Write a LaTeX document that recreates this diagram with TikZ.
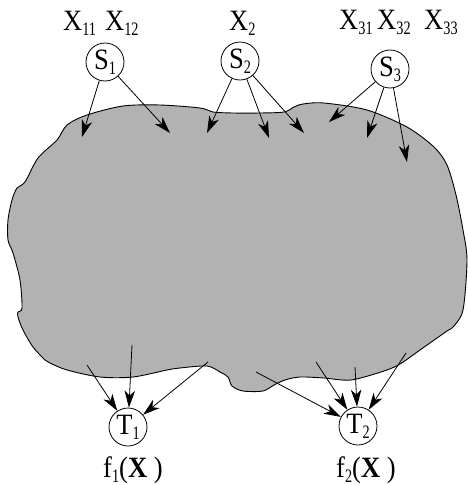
\documentclass[tikz,border=0pt]{standalone}
\usepackage{fontspec}
\setmainfont{Liberation Serif}
\usetikzlibrary{arrows.meta}
\newcommand\sbs[1]{\raisebox{-5pt}{\scalebox{0.75}[1]{\fontsize{19}{19}\selectfont #1}}}
\newcommand\tx[1]{\scalebox{0.9}[1]{#1}}
\begin{document}
\begin{tikzpicture}[x=1pt,y=-1pt,
  font=\fontsize{29.5}{30}\selectfont,
  circ/.style={draw,circle,line width=0.8pt,minimum size=38pt,inner sep=0pt},
  lbl/.style={anchor=base west,inner sep=0pt},
  arr/.style={draw,line width=0.8pt,-{Stealth[length=17pt,width=10.5pt,inset=5pt]}}]
\useasboundingbox (0,0) rectangle (468,485);
% blob
\path[fill={rgb,255:red,178;green,178;blue,178},draw=black,line width=0.9pt]
  plot[smooth cycle,tension=0.5] coordinates {
  (38,158) (57,140) (67,125) (87,115) (123,106) (160,105) (200,108) (213,112)
  (233,113) (260,113) (284,112) (294,107) (303,104) (324,103) (367,110)
  (407,127) (434,147) (447,165) (456,195) (463,230) (467,260) (463,310)
  (453,327) (447,331) (420,350) (400,364) (384,371) (351,380) (324,378)
  (300,377) (285,380) (274,385) (263,391) (243,391) (232,386) (228,377)
  (220,372) (207,366) (180,368) (167,370) (133,377) (100,377) (67,370)
  (50,363) (45,360) (33,347) (23,330) (18,317) (18,312) (22,308) (20,280)
  (13,253) (8,240) (8,220) (12,200) (17,188) (25,182)};
% labels
\node[lbl] (x11) at (63,30) {\tx{X}\sbs{11}};
\node[lbl] (x12) at (105,30) {\tx{X}\sbs{12}};
\node[lbl] (x2) at (229,30) {\tx{X}\sbs{2}};
\node[lbl] (x31) at (339,29) {\tx{X}\sbs{31}};
\node[lbl] (x32) at (377,29) {\tx{X}\sbs{32}};
\node[lbl] (x33) at (424,29) {\tx{X}\sbs{33}};
\node[lbl] (f1) at (103,477) {\tx{f}\sbs{1}\tx{(\textbf{X} )}};
\node[lbl] (f2) at (336,477) {\tx{f}\sbs{2}\tx{(\textbf{X} )}};
% nodes
\node[circ,fill=white] (S1) at (105,62) {\tx{S}\sbs{1}};
\node[circ,fill=white] (S2) at (240,61) {\tx{S}\sbs{2}};
\node[circ,fill=white] (S3) at (390,69) {\tx{S}\sbs{3}};
\node[circ,fill=white] (T1) at (128,427) {\tx{T}\sbs{1}};
\node[circ,fill=white] (T2) at (358,426) {\tx{T}\sbs{2}};
% targets in blob
\coordinate (a1) at (82,137);
\coordinate (a2) at (170,133);
\coordinate (b1) at (207,133);
\coordinate (b2) at (269,138);
\coordinate (b3) at (304,133);
\coordinate (c1) at (329,122);
\coordinate (c2) at (367,138);
\coordinate (c3) at (407,162);
\coordinate (d1) at (87,365);
\coordinate (d2) at (132,345);
\coordinate (d3) at (208,362);
\coordinate (e1) at (256,372);
\coordinate (e2) at (316,362);
\coordinate (e3) at (355,367);
\coordinate (e4) at (406,353);
% arrows
\draw[arr] (S1) -- (a1);
\draw[arr] (S1) -- (a2);
\draw[arr] (S2) -- (b1);
\draw[arr] (S2) -- (b2);
\draw[arr] (S2) -- (b3);
\draw[arr] (S3) -- (c1);
\draw[arr] (S3) -- (c2);
\draw[arr] (S3) -- (c3);
\draw[arr] (d1) -- (T1);
\draw[arr] (d2) -- (T1);
\draw[arr] (d3) -- (T1);
\draw[arr] (e1) -- (T2);
\draw[arr] (e2) -- (T2);
\draw[arr] (e3) -- (T2);
\draw[arr] (e4) -- (T2);
\end{tikzpicture}
\end{document}
